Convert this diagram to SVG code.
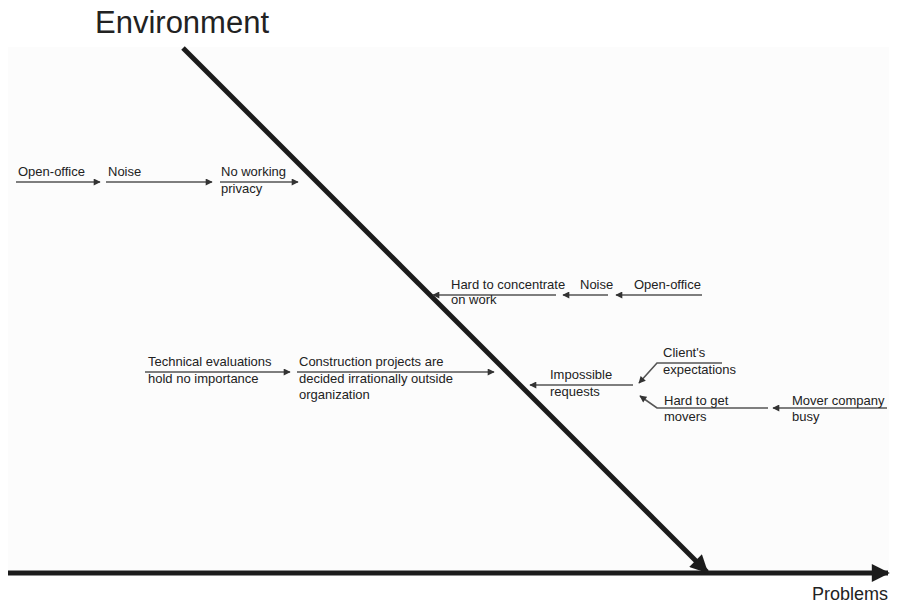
<svg xmlns="http://www.w3.org/2000/svg" width="907" height="607" viewBox="0 0 907 607">
<style>
.t{font-family:"Liberation Sans",Arial,sans-serif;font-size:13px;fill:#222}
.big{font-family:"Liberation Sans",Arial,sans-serif;fill:#222}
.c{stroke:#555;stroke-width:1.6;fill:none}
.main{stroke:#1c1c1c;stroke-width:5;fill:none}
</style>
<defs>
<marker id="a" viewBox="0 0 10 10" refX="9" refY="5" markerWidth="8" markerHeight="7" markerUnits="userSpaceOnUse" orient="auto"><path d="M0,0 L10,5 L0,10 Z" fill="#333"/></marker>
<marker id="m" viewBox="0 0 10 10" refX="9" refY="5" markerWidth="20" markerHeight="18" markerUnits="userSpaceOnUse" orient="auto"><path d="M0,0 L10,5 L0,10 Z" fill="#1c1c1c"/></marker>
</defs>
<rect x="0" y="0" width="907" height="607" fill="#fff"/>
<rect x="8" y="47" width="881" height="526" fill="#fcfcfc"/>
<text class="big" x="95" y="33" font-size="31">Environment</text>
<text class="big" x="812" y="600" font-size="18">Problems</text>
<g id="connectors">
<line class="main" x1="8" y1="573" x2="888" y2="573" marker-end="url(#m)"/>
<line class="main" x1="183" y1="48" x2="707" y2="572" marker-end="url(#m)"/>
<line class="c" x1="16" y1="182" x2="100" y2="182" marker-end="url(#a)"/>
<line class="c" x1="106" y1="182" x2="212" y2="182" marker-end="url(#a)"/>
<line class="c" x1="220" y1="182" x2="298" y2="182" marker-end="url(#a)"/>
<line class="c" x1="556" y1="295" x2="433" y2="295" marker-end="url(#a)"/>
<line class="c" x1="608" y1="295" x2="563" y2="295" marker-end="url(#a)"/>
<line class="c" x1="702" y1="295" x2="616" y2="295" marker-end="url(#a)"/>
<line class="c" x1="145" y1="372" x2="290" y2="372" marker-end="url(#a)"/>
<line class="c" x1="297" y1="372" x2="494" y2="372" marker-end="url(#a)"/>
<line class="c" x1="633" y1="385" x2="530" y2="385" marker-end="url(#a)"/>
<polyline class="c" points="722,363 657,363 639,383" marker-end="url(#a)"/>
<polyline class="c" points="768,408 657,408 640,396" marker-end="url(#a)"/>
<line class="c" x1="887" y1="408" x2="773" y2="408" marker-end="url(#a)"/>
</g>
<g id="n1"><text class="t" x="18" y="176">Open-office</text></g>
<g id="n2"><text class="t" x="108" y="176">Noise</text></g>
<g id="n3"><text class="t" x="221" y="176">No working</text><text class="t" x="221" y="193">privacy</text></g>
<g id="n4"><text class="t" x="451" y="289">Hard to concentrate</text><text class="t" x="451" y="304">on work</text></g>
<g id="n5"><text class="t" x="580" y="289">Noise</text></g>
<g id="n6"><text class="t" x="634" y="289">Open-office</text></g>
<g id="n7"><text class="t" x="148" y="366">Technical evaluations</text><text class="t" x="148" y="383">hold no importance</text></g>
<g id="n8"><text class="t" x="299" y="366">Construction projects are</text><text class="t" x="299" y="383">decided irrationally outside</text><text class="t" x="299" y="399">organization</text></g>
<g id="n9"><text class="t" x="550" y="379">Impossible</text><text class="t" x="550" y="396">requests</text></g>
<g id="n10"><text class="t" x="663" y="357">Client's</text><text class="t" x="663" y="374">expectations</text></g>
<g id="n11"><text class="t" x="664" y="405">Hard to get</text><text class="t" x="664" y="421">movers</text></g>
<g id="n12"><text class="t" x="792" y="405">Mover company</text><text class="t" x="792" y="421">busy</text></g>
</svg>
